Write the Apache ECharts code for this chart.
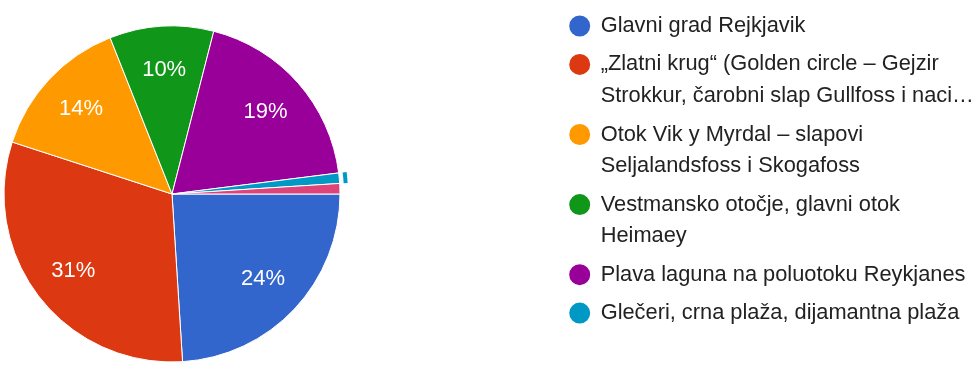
<!DOCTYPE html>
<html>
<head>
<meta charset="utf-8">
<script src="https://cdn.jsdelivr.net/npm/echarts@6/dist/echarts.min.js"></script>
<style>
  html, body { margin: 0; padding: 0; background: #fff; overflow: hidden; }
  #chart { width: 976px; height: 372px; }
</style>
</head>
<body>
<div id="chart"></div>
<script>
// Answer options (legend text, with the manual line breaks used in the legend)
const categories = [
  'Glavni grad Rejkjavik',
  '„Zlatni krug“ (Golden circle – Gejzir\nStrokkur, čarobni slap Gullfoss i naci…',
  'Otok Vik y Myrdal – slapovi\nSeljalandsfoss i Skogafoss',
  'Vestmansko otočje, glavni otok\nHeimaey',
  'Plava laguna na poluotoku Reykjanes',
  'Glečeri, crna plaža, dijamantna plaža',
  'Ostalo'
];
// Share of answers, in percent
const shares = [24, 31, 14, 10, 19, 1, 1];
const colors = ['#3366cc', '#dc3912', '#ff9900', '#109618', '#990099', '#0099c6', '#dd4477'];
// Options listed in the legend
const legendCount = 6;
// Option whose slice is highlighted with an outer ring
const highlighted = 5;

const FONT = 'Arial, "Liberation Sans", sans-serif';
const CENTER = [172, 194];
const R = 168;

const data = categories.map((name, i) => ({
  name: name,
  value: shares[i],
  itemStyle: { color: colors[i] }
}));

// One legend block per option so that the marker lines up with the first text line:
// multi-line entries get empty leading lines, keeping the marker at the first line.
const LINE = 31.7, GAP = 6.7;
const legends = [];
let c = 26;
for (let i = 0; i < legendCount; i++) {
  const lines = categories[i].split('\n').length;
  legends.push({
    data: [categories[i]],
    orient: 'vertical',
    left: 567.2,
    top: c - (2 * lines - 1) * LINE / 2,
    padding: 0,
    icon: 'circle',
    itemWidth: 23,
    itemHeight: 23,
    selectedMode: false,
    formatter: name => '\n'.repeat(lines - 1) + name,
    textStyle: {
      fontFamily: FONT,
      fontSize: 21.8,
      lineHeight: LINE,
      color: '#222',
      padding: [0, 0, 0, 4.5]
    }
  });
  c += lines * LINE + GAP;
}

const chart = echarts.init(document.getElementById('chart'), null, { renderer: 'canvas' });
chart.setOption({
  animation: false,
  color: colors,
  legend: legends,
  series: [
    {
      type: 'pie',
      center: CENTER,
      radius: [0, R],
      startAngle: 0,
      clockwise: true,
      avoidLabelOverlap: false,
      label: { show: false },
      labelLine: { show: false },
      itemStyle: { borderColor: '#fff', borderWidth: 1 },
      emphasis: { disabled: true },
      data: data
    },
    {
      // outer ring around the highlighted slice
      type: 'pie',
      center: CENTER,
      radius: [R + 4, R + 8],
      startAngle: 0,
      silent: true,
      label: { show: false },
      labelLine: { show: false },
      data: categories.map((name, i) => ({
        name: name,
        value: shares[i],
        itemStyle: { color: i === highlighted ? colors[i] : 'rgba(0,0,0,0)' }
      }))
    },
    {
      // percentage labels, placed at about 3/4 of the radius
      type: 'pie',
      center: CENTER,
      radius: [0, R * 1.45],
      startAngle: 0,
      silent: true,
      itemStyle: { color: 'rgba(0,0,0,0)' },
      labelLine: { show: false },
      label: {
        show: true,
        position: 'inside',
        fontFamily: FONT,
        fontSize: 22,
        color: '#fff',
        formatter: p => p.percent >= 5 ? Math.round(p.percent) + '%' : ''
      },
      data: categories.map((name, i) => ({ name: name, value: shares[i] }))
    }
  ]
});
</script>
</body>
</html>
